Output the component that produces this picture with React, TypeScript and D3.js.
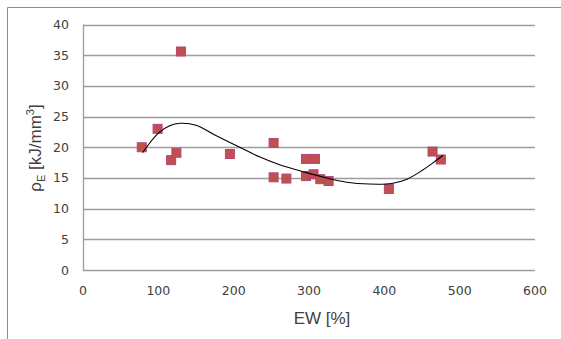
import React from "react";
import * as d3 from "d3";

// Measured points
const ewValues = [78, 99, 117, 124, 130, 195, 253, 253, 270, 296, 308, 296, 306, 315, 326, 406, 464, 475];
const rhoValues = [20.0, 23.0, 17.9, 19.1, 35.6, 18.9, 20.7, 15.1, 14.9, 18.1, 18.1, 15.3, 15.6, 14.8, 14.5, 13.2, 19.3, 18.0];
// Trendline (polynomial) values
const trendEW = [79, 100, 115, 129, 150, 175, 208, 235, 262, 290, 320, 350, 380, 410, 430, 450, 465, 478];
const trendRho = [19.1, 22.3, 23.5, 23.9, 23.6, 22.0, 20.0, 18.4, 17.1, 16.1, 15.1, 14.3, 14.0, 14.1, 14.8, 16.2, 17.5, 18.7];
const xTicks = [0, 100, 200, 300, 400, 500, 600];
const yTicks = [0, 5, 10, 15, 20, 25, 30, 35, 40];

const W = 561;
const H = 339;
const M = { left: 83, right: 535, top: 24.5, bottom: 270 };

export default function App() {
  const x = d3.scaleLinear().domain([0, 600]).range([M.left, M.right]);
  const y = d3.scaleLinear().domain([0, 40]).range([M.bottom, M.top]);
  const line = d3
    .line<number>()
    .x((_, i) => x(trendEW[i]))
    .y((v) => y(v))
    .curve(d3.curveCatmullRom.alpha(0.5));
  const tickFont = "'DejaVu Sans', Verdana, sans-serif";
  const sq = 9;
  return (
    <svg
      width={W}
      height={H}
      style={{ position: "absolute", left: 0, top: 0, background: "#fff" }}
    >
      <path d={`M7.5,${H} V7.5 H${W}`} fill="none" stroke="#8c8c8c" strokeWidth={1} />
      {yTicks.map((t) => (
        <line
          key={"g" + t}
          x1={M.left}
          x2={M.right}
          y1={Math.round(y(t)) + 0.5}
          y2={Math.round(y(t)) + 0.5}
          stroke="#9d9d9d"
          strokeWidth={1.3}
        />
      ))}
      <line x1={M.left + 0.5} x2={M.left + 0.5} y1={M.top} y2={M.bottom + 1} stroke="#9d9d9d" strokeWidth={1.3} />
      {yTicks.map((t) => (
        <text
          key={"yt" + t}
          x={69}
          y={y(t) + 4.5}
          textAnchor="end"
          fontFamily={tickFont}
          fontSize={12.5}
          fill="#404040"
        >
          {t}
        </text>
      ))}
      {xTicks.map((t) => (
        <text
          key={"xt" + t}
          x={x(t)}
          y={295}
          textAnchor="middle"
          fontFamily={tickFont}
          fontSize={12.5}
          fill="#404040"
        >
          {t}
        </text>
      ))}
      <text
        x={322}
        y={324}
        textAnchor="middle"
        fontFamily="'Liberation Sans', Arial, sans-serif"
        fontSize={17}
        fill="#404040"
      >
        EW [%]
      </text>
      <text
        transform="translate(41,148) rotate(-90)"
        textAnchor="middle"
        fontFamily="'Liberation Sans', Arial, sans-serif"
        fontSize={17}
        fill="#404040"
      >
        ρ<tspan fontSize={11} dy={4}>E</tspan>
        <tspan dy={-4}> [kJ/mm</tspan>
        <tspan fontSize={11} dy={-7}>3</tspan>
        <tspan dy={7}>]</tspan>
      </text>
      {ewValues.map((v, i) => (
        <rect
          key={"p" + i}
          x={x(v) - sq / 2}
          y={y(rhoValues[i]) - sq / 2}
          width={sq}
          height={sq}
          fill="#c0504d"
          stroke="#b5467a"
          strokeWidth={1}
        />
      ))}
      <path d={line(trendRho) || ""} fill="none" stroke="#000" strokeWidth={1.1} />
    </svg>
  );
}
